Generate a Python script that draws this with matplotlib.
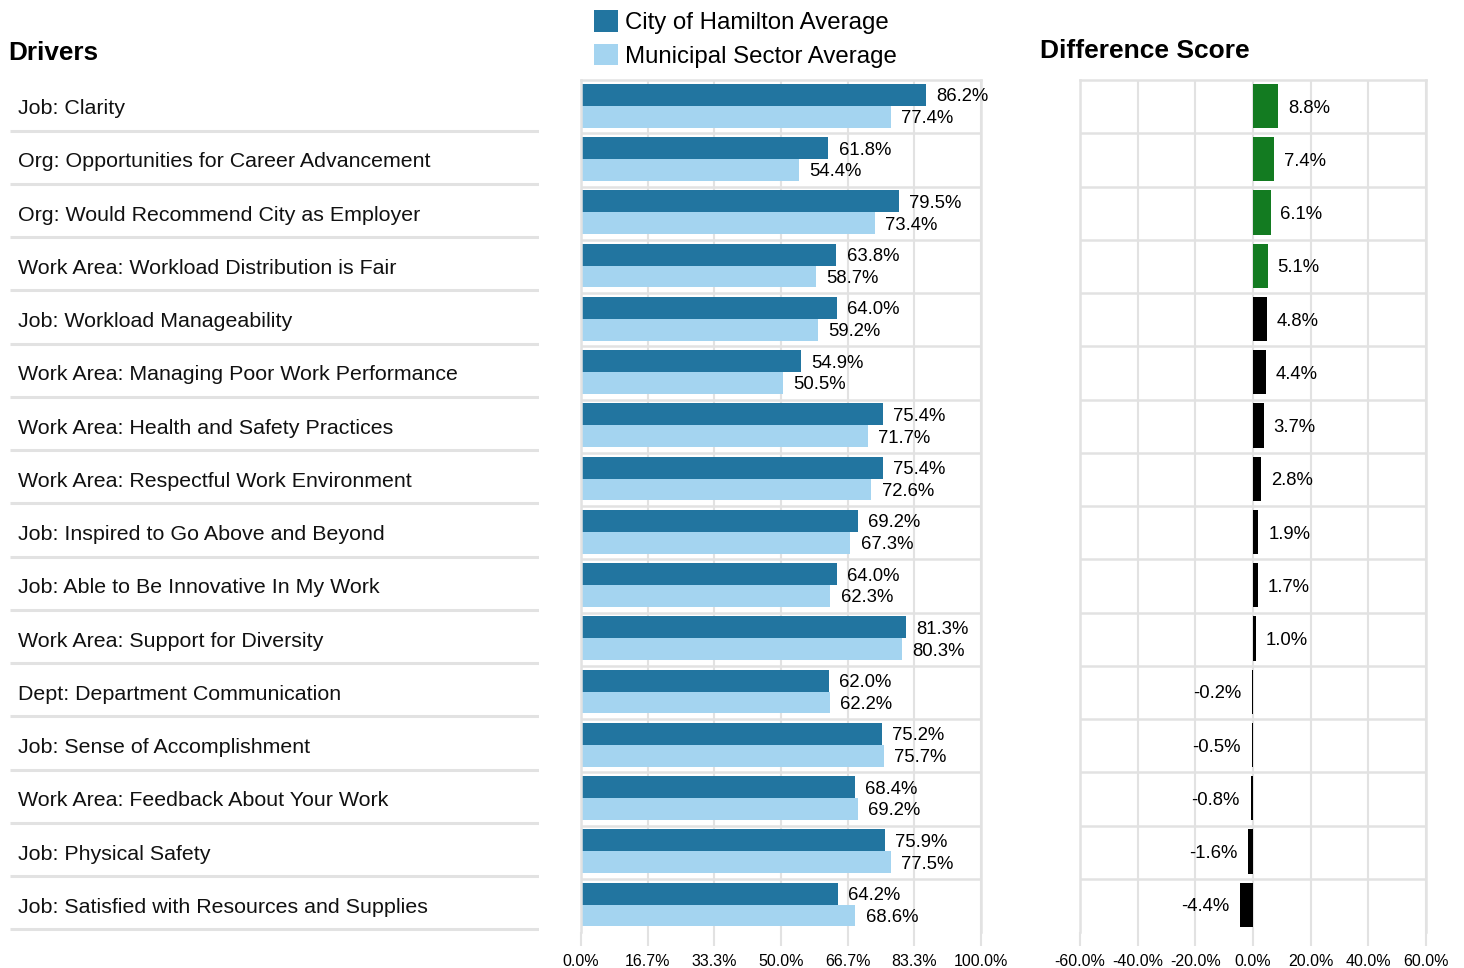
import numpy as np
import matplotlib

matplotlib.use("Agg")
import matplotlib.pyplot as plt
from matplotlib.patches import Patch

plt.rcParams["font.family"] = ["Liberation Sans", "DejaVu Sans"]

drivers = [
    "Job: Clarity",
    "Org: Opportunities for Career Advancement",
    "Org: Would Recommend City as Employer",
    "Work Area: Workload Distribution is Fair",
    "Job: Workload Manageability",
    "Work Area: Managing Poor Work Performance",
    "Work Area: Health and Safety Practices",
    "Work Area: Respectful Work Environment",
    "Job: Inspired to Go Above and Beyond",
    "Job: Able to Be Innovative In My Work",
    "Work Area: Support for Diversity",
    "Dept: Department Communication",
    "Job: Sense of Accomplishment",
    "Work Area: Feedback About Your Work",
    "Job: Physical Safety",
    "Job: Satisfied with Resources and Supplies",
]
city_avg = [86.2, 61.8, 79.5, 63.8, 64.0, 54.9, 75.4, 75.4, 69.2, 64.0, 81.3, 62.0, 75.2, 68.4, 75.9, 64.2]
sector_avg = [77.4, 54.4, 73.4, 58.7, 59.2, 50.5, 71.7, 72.6, 67.3, 62.3, 80.3, 62.2, 75.7, 69.2, 77.5, 68.6]
diff_score = [8.8, 7.4, 6.1, 5.1, 4.8, 4.4, 3.7, 2.8, 1.9, 1.7, 1.0, -0.2, -0.5, -0.8, -1.6, -4.4]
bar_ticks = [0, 100 / 6, 200 / 6, 50, 400 / 6, 500 / 6, 100]
diff_ticks = [-60, -40, -20, 0, 20, 40, 60]

DARK = "#2275a0"
LIGHT = "#a4d4f0"
GREEN = "#137b21"
GRID = "#e2e2e2"

W, H = 1464, 968
fig = plt.figure(figsize=(W / 100, H / 100), dpi=100)


def frac(x0, x1, y0=80, y1=932):
    return [x0 / W, 1 - y1 / H, (x1 - x0) / W, (y1 - y0) / H]


n = len(drivers)
rows = np.arange(n)

ax_lab = fig.add_axes(frac(10, 539))
ax_bar = fig.add_axes(frac(581, 981))
ax_dif = fig.add_axes(frac(1080, 1426))

# driver labels column
ax_lab.set_xlim(0, 1)
ax_lab.set_ylim(n, 0)
ax_lab.axis("off")
for i, name in enumerate(drivers):
    ax_lab.text(0.015, i + 0.5, name, ha="left", va="center_baseline", fontsize=15.4, color="#111111")
    ax_lab.plot([0, 1], [i + 0.95, i + 0.95], color=GRID, lw=2.2, solid_capstyle="butt")


def style(ax, ticks):
    ax.set_ylim(n, 0)
    ax.set_yticks([])
    ax.set_xticks(ticks)
    ax.xaxis.set_major_formatter(matplotlib.ticker.FuncFormatter(lambda v, p: f"{v:.1f}%"))
    ax.tick_params(axis="x", length=10, width=1.5, color=GRID, labelsize=11.5, pad=6)
    ax.grid(axis="x", color=GRID, lw=1.5, zorder=0)
    for r in range(1, n):
        ax.axhline(r, color=GRID, lw=1.8, zorder=0)
    for s in ("left", "right", "top"):
        ax.spines[s].set_color(GRID)
        ax.spines[s].set_linewidth(1.8)
    ax.spines["bottom"].set_visible(False)
    ax.set_axisbelow(True)


# grouped bars
style(ax_bar, bar_ticks)
ax_bar.set_xlim(0, 100)
ax_bar.barh(rows + 0.28, city_avg, height=0.41, color=DARK, zorder=2)
ax_bar.barh(rows + 0.69, sector_avg, height=0.41, color=LIGHT, zorder=2)
for i in range(n):
    ax_bar.annotate(f"{city_avg[i]:.1f}%", (city_avg[i], i + 0.28), xytext=(7.5, 0),
                    textcoords="offset points", ha="left", va="center_baseline", fontsize=13.3)
    ax_bar.annotate(f"{sector_avg[i]:.1f}%", (sector_avg[i], i + 0.69), xytext=(7.5, 0),
                    textcoords="offset points", ha="left", va="center_baseline", fontsize=13.3)

# difference score
style(ax_dif, diff_ticks)
ax_dif.set_xlim(-60, 60)
dcol = [GREEN if d >= 5 else "black" for d in diff_score]
ax_dif.barh(rows + 0.49, diff_score, height=0.83, color=dcol, zorder=2)
for i, d in enumerate(diff_score):
    if d >= 0:
        ax_dif.annotate(f"{d:.1f}%", (d, i + 0.49), xytext=(7, 0), textcoords="offset points",
                        ha="left", va="center_baseline", fontsize=13.3)
    else:
        ax_dif.annotate(f"{d:.1f}%", (d, i + 0.49), xytext=(-8, 0), textcoords="offset points",
                        ha="right", va="center_baseline", fontsize=13.3)

# titles
fig.text(8 / W, 1 - 51 / H, "Drivers", ha="left", va="center_baseline", fontsize=18.8, fontweight="bold")
fig.text(1040 / W, 1 - 49 / H, "Difference Score", ha="left", va="center_baseline", fontsize=19,
         fontweight="bold")

# legend
handles = [Patch(facecolor=DARK, label="City of Hamilton Average"),
           Patch(facecolor=LIGHT, label="Municipal Sector Average")]
fig.legend(handles=handles, loc="upper left", bbox_to_anchor=(594 / W, 1 - 10 / H),
           frameon=False, fontsize=17.3, handlelength=1.0, handleheight=1.0,
           handletextpad=0.3, labelspacing=0.4, borderpad=0, borderaxespad=0)

fig.savefig("out.png", dpi=100, facecolor="white")
